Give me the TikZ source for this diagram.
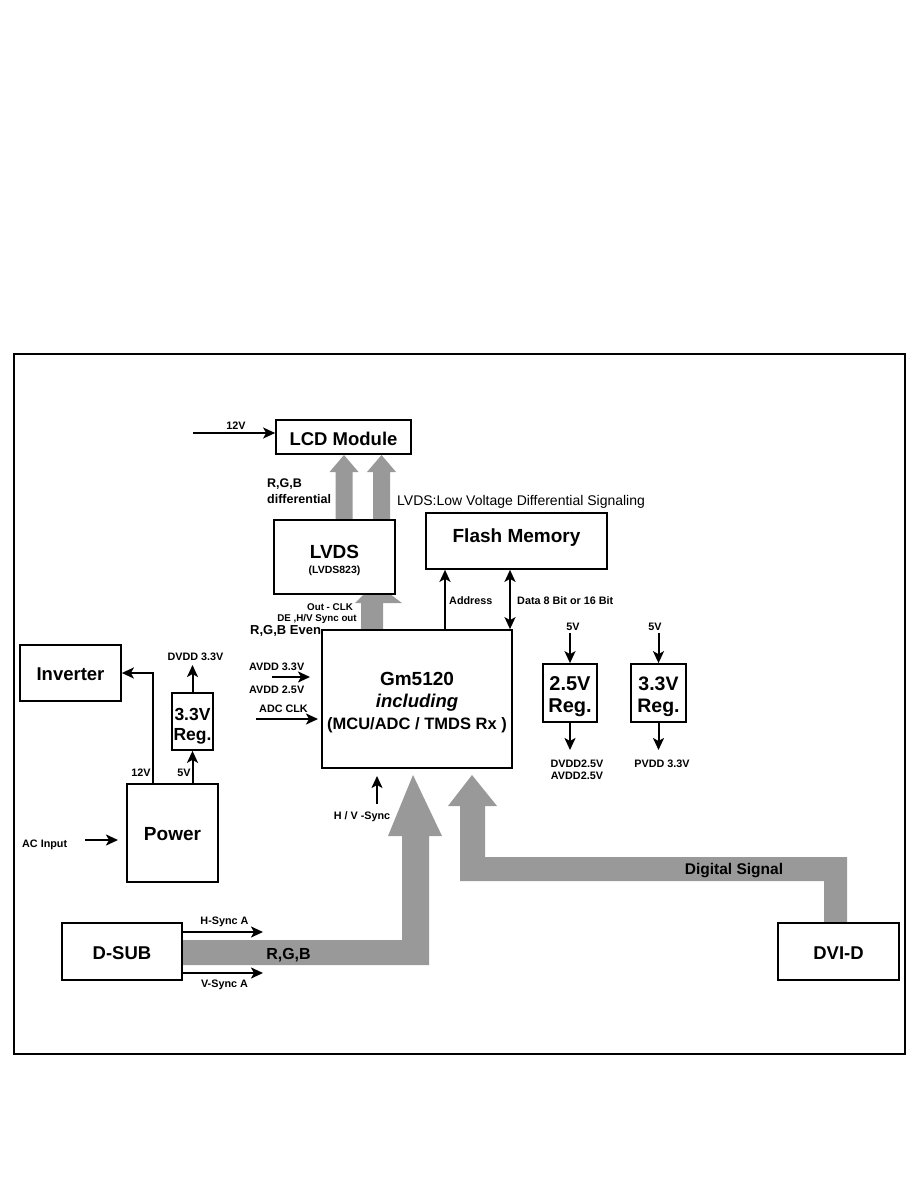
\documentclass[tikz,border=0pt]{standalone}
\usepackage{fontspec}
\setmainfont{Liberation Sans}
\usetikzlibrary{arrows.meta}
\definecolor{fatgray}{RGB}{153,153,153}
\begin{document}
\begin{tikzpicture}[x=1pt,y=-1pt,
  box/.style={draw,line width=1.7pt,inner sep=0pt},
  big/.style={font=\bfseries\fontsize{18.5}{20}\selectfont,inner sep=0pt,anchor=base},
  small/.style={font=\bfseries\fontsize{10.8}{12}\selectfont,inner sep=0pt,anchor=base},
  smallw/.style={small,anchor=base west},
  arr/.style={line width=2pt,-{Stealth[length=12pt,width=11pt,inset=3pt]}},
  darr/.style={line width=2pt,{Stealth[length=12pt,width=11pt,inset=3pt]}-{Stealth[length=12pt,width=11pt,inset=3pt]}},
  fat/.style={fill=fatgray}]
\useasboundingbox (0,0) rectangle (918,1188);
\fill[white] (0,0) rectangle (918,1188);
\draw[line width=1.5pt] (14,354) rectangle (905,1054);

% fat gray arrows
\fill[fat] (335.5,520) -- (335.5,472) -- (329.5,472) -- (344,455) -- (358.5,472) -- (352.5,472) -- (352.5,520) -- cycle;
\fill[fat] (373,520) -- (373,472) -- (367,472) -- (381.5,455) -- (396,472) -- (390,472) -- (390,520) -- cycle;
\fill[fat] (361,630) -- (361,603) -- (355,603) -- (364,594) -- (390,594) -- (402,603) -- (383,603) -- (383,630) -- cycle;
\fill[fat] (182,940) -- (402,940) -- (402,836) -- (388,836) -- (413,775) -- (442,836) -- (429,836) -- (429,965) -- (182,965) -- cycle;
\fill[fat] (847,922) -- (847,857) -- (485,857) -- (485,806) -- (497,806) -- (472,775) -- (448,806) -- (460,806) -- (460,881) -- (824,881) -- (824,922) -- cycle;

% boxes
\node[box,minimum width=135,minimum height=34] (lcd) at (343.5,437) {};
\node[box,minimum width=121,minimum height=74] (lvds) at (334.5,557) {};
\node[box,minimum width=181,minimum height=56] (flash) at (516.5,541) {};
\node[box,minimum width=190,minimum height=138] (gm) at (417,699) {};
\node[box,minimum width=101,minimum height=56] (inv) at (70.5,673) {};
\node[box,minimum width=41,minimum height=57] (regA) at (192.5,721.5) {};
\node[box,minimum width=91,minimum height=98] (power) at (172.5,833) {};
\node[box,minimum width=54,minimum height=58] (regB) at (570,693) {};
\node[box,minimum width=55,minimum height=58] (regC) at (658.5,693) {};
\node[box,minimum width=120,minimum height=57] (dsub) at (122,951.5) {};
\node[box,minimum width=121,minimum height=57] (dvi) at (838.5,951.5) {};

% box texts
\node[big] (tlcd) at (343.5,445) {LCD Module};
\node[big,font=\bfseries\fontsize{19}{20}\selectfont] (tlvds) at (334.5,558) {LVDS};
\node[small,font=\bfseries\fontsize{10.5}{12}\selectfont] (tlvdsb) at (334.5,573) {(LVDS823)};
\node[big,font=\bfseries\fontsize{19}{20}\selectfont] (tflash) at (516.5,542) {Flash Memory};
\node[big,font=\bfseries\fontsize{19}{20}\selectfont] (tgm1) at (417,685) {Gm5120};
\node[big,font=\bfseries\itshape\fontsize{18.5}{20}\selectfont] (tgm2) at (417,707) {including};
\node[big,font=\bfseries\fontsize{16.5}{18}\selectfont] (tgm3) at (417,729) {(MCU/ADC / TMDS Rx )};
\node[big] (tinv) at (70.5,680) {Inverter};
\node[big,font=\bfseries\fontsize{17.5}{19}\selectfont] (tregA1) at (192.5,720) {3.3V};
\node[big,font=\bfseries\fontsize{17.5}{19}\selectfont] (tregA2) at (192.5,740) {Reg.};
\node[big,font=\bfseries\fontsize{19}{20}\selectfont] (tpow) at (172.5,840) {Power};
\node[big,font=\bfseries\fontsize{20}{21}\selectfont] (tregB1) at (570,690) {2.5V};
\node[big,font=\bfseries\fontsize{20}{21}\selectfont] (tregB2) at (570,712) {Reg.};
\node[big,font=\bfseries\fontsize{19.5}{21}\selectfont] (tregC1) at (658.5,690) {3.3V};
\node[big,font=\bfseries\fontsize{19.5}{21}\selectfont] (tregC2) at (658.5,712) {Reg.};
\node[big] (tdsub) at (122,959) {D-SUB};
\node[big] (tdvi) at (838.5,959) {DVI-D};

% labels
\node[small] (l12a) at (236,429) {12V};
\node[smallw,font=\bfseries\fontsize{12.5}{14}\selectfont] (lrgb1) at (267,487) {R,G,B};
\node[smallw,font=\bfseries\fontsize{12.5}{14}\selectfont] (lrgb2) at (267,503) {differential};
\node[anchor=base west,inner sep=0pt,font=\fontsize{14}{16}\selectfont] (llvds) at (397,505) {LVDS:Low Voltage Differential Signaling};
\node[small,font=\bfseries\fontsize{9.8}{11}\selectfont] (lout) at (330,610) {Out - CLK};
\node[small,font=\bfseries\fontsize{9.8}{11}\selectfont] (lde) at (317,621) {DE ,H/V Sync out};
\node[smallw,font=\bfseries\fontsize{13}{15}\selectfont] (leven) at (250,634) {R,G,B Even};
\node[smallw] (laddr) at (449,604) {Address};
\node[smallw] (ldata) at (517,604) {Data 8 Bit or 16 Bit};
\node[smallw] (lav3) at (249,670) {AVDD 3.3V};
\node[smallw] (lav2) at (249,693) {AVDD 2.5V};
\node[smallw] (ladc) at (259,712) {ADC CLK};
\node[small] (ldvdd) at (195.5,660) {DVDD 3.3V};
\node[small] (l12b) at (141,776) {12V};
\node[small] (l5a) at (184,776) {5V};
\node[smallw] (lac) at (22,847) {AC Input};
\node[small] (l5b) at (573,630) {5V};
\node[small] (l5c) at (655,630) {5V};
\node[small] (ldv25) at (577,767) {DVDD2.5V};
\node[small] (lav25) at (577,779) {AVDD2.5V};
\node[small] (lpv) at (662,767) {PVDD 3.3V};
\node[small] (lhv) at (362,819) {H / V -Sync};
\node[small] (lhs) at (224.5,924) {H-Sync A};
\node[small] (lvs) at (224.5,987) {V-Sync A};
\node[big,font=\bfseries\fontsize{16}{18}\selectfont] (lrgbband) at (288.5,959) {R,G,B};
\node[big,font=\bfseries\fontsize{15.5}{17}\selectfont] (ldig) at (734,874) {Digital Signal};

% thin connectors
\coordinate (c12) at (193,433);
\draw[arr] (c12) -- (c12 -| lcd.west);
\coordinate (adx) at (445,600);
\draw[arr] (gm.north -| adx) -- (flash.south -| adx);
\coordinate (dtx) at (510,600);
\draw[darr] (flash.south -| dtx) -- (gm.north -| dtx);
\coordinate (av1) at (272,677); \coordinate (av2) at (310,677);
\draw[arr] (av1) -- (av2);
\coordinate (ad1) at (256,719); \coordinate (ad2) at (318,719);
\draw[arr] (ad1) -- (ad2);
\coordinate (p12) at (153,784);
\draw[arr] (p12) |- (inv.east);
\draw[arr] (regA.south |- power.north) -- (regA.south);
\coordinate (dv) at (192.5,665);
\draw[arr] (regA.north) -- (dv);
\coordinate (ac1) at (85,840); \coordinate (ac2) at (118,840);
\draw[arr] (ac1) -- (ac2);
\coordinate (b5) at (570,633); \coordinate (c5) at (658.5,633);
\draw[arr] (b5) -- (regB.north);
\draw[arr] (c5) -- (regC.north);
\coordinate (bd) at (570,750); \coordinate (cd) at (658.5,750);
\draw[arr] (regB.south) -- (bd);
\draw[arr] (regC.south) -- (cd);
\coordinate (hv1) at (377,804); \coordinate (hv2) at (377,776);
\draw[arr] (hv1) -- (hv2);
\coordinate (hs) at (263,932); \coordinate (vs) at (263,973);
\draw[arr] (hs -| dsub.east) -- (hs);
\draw[arr] (vs -| dsub.east) -- (vs);
\end{tikzpicture}
\end{document}
